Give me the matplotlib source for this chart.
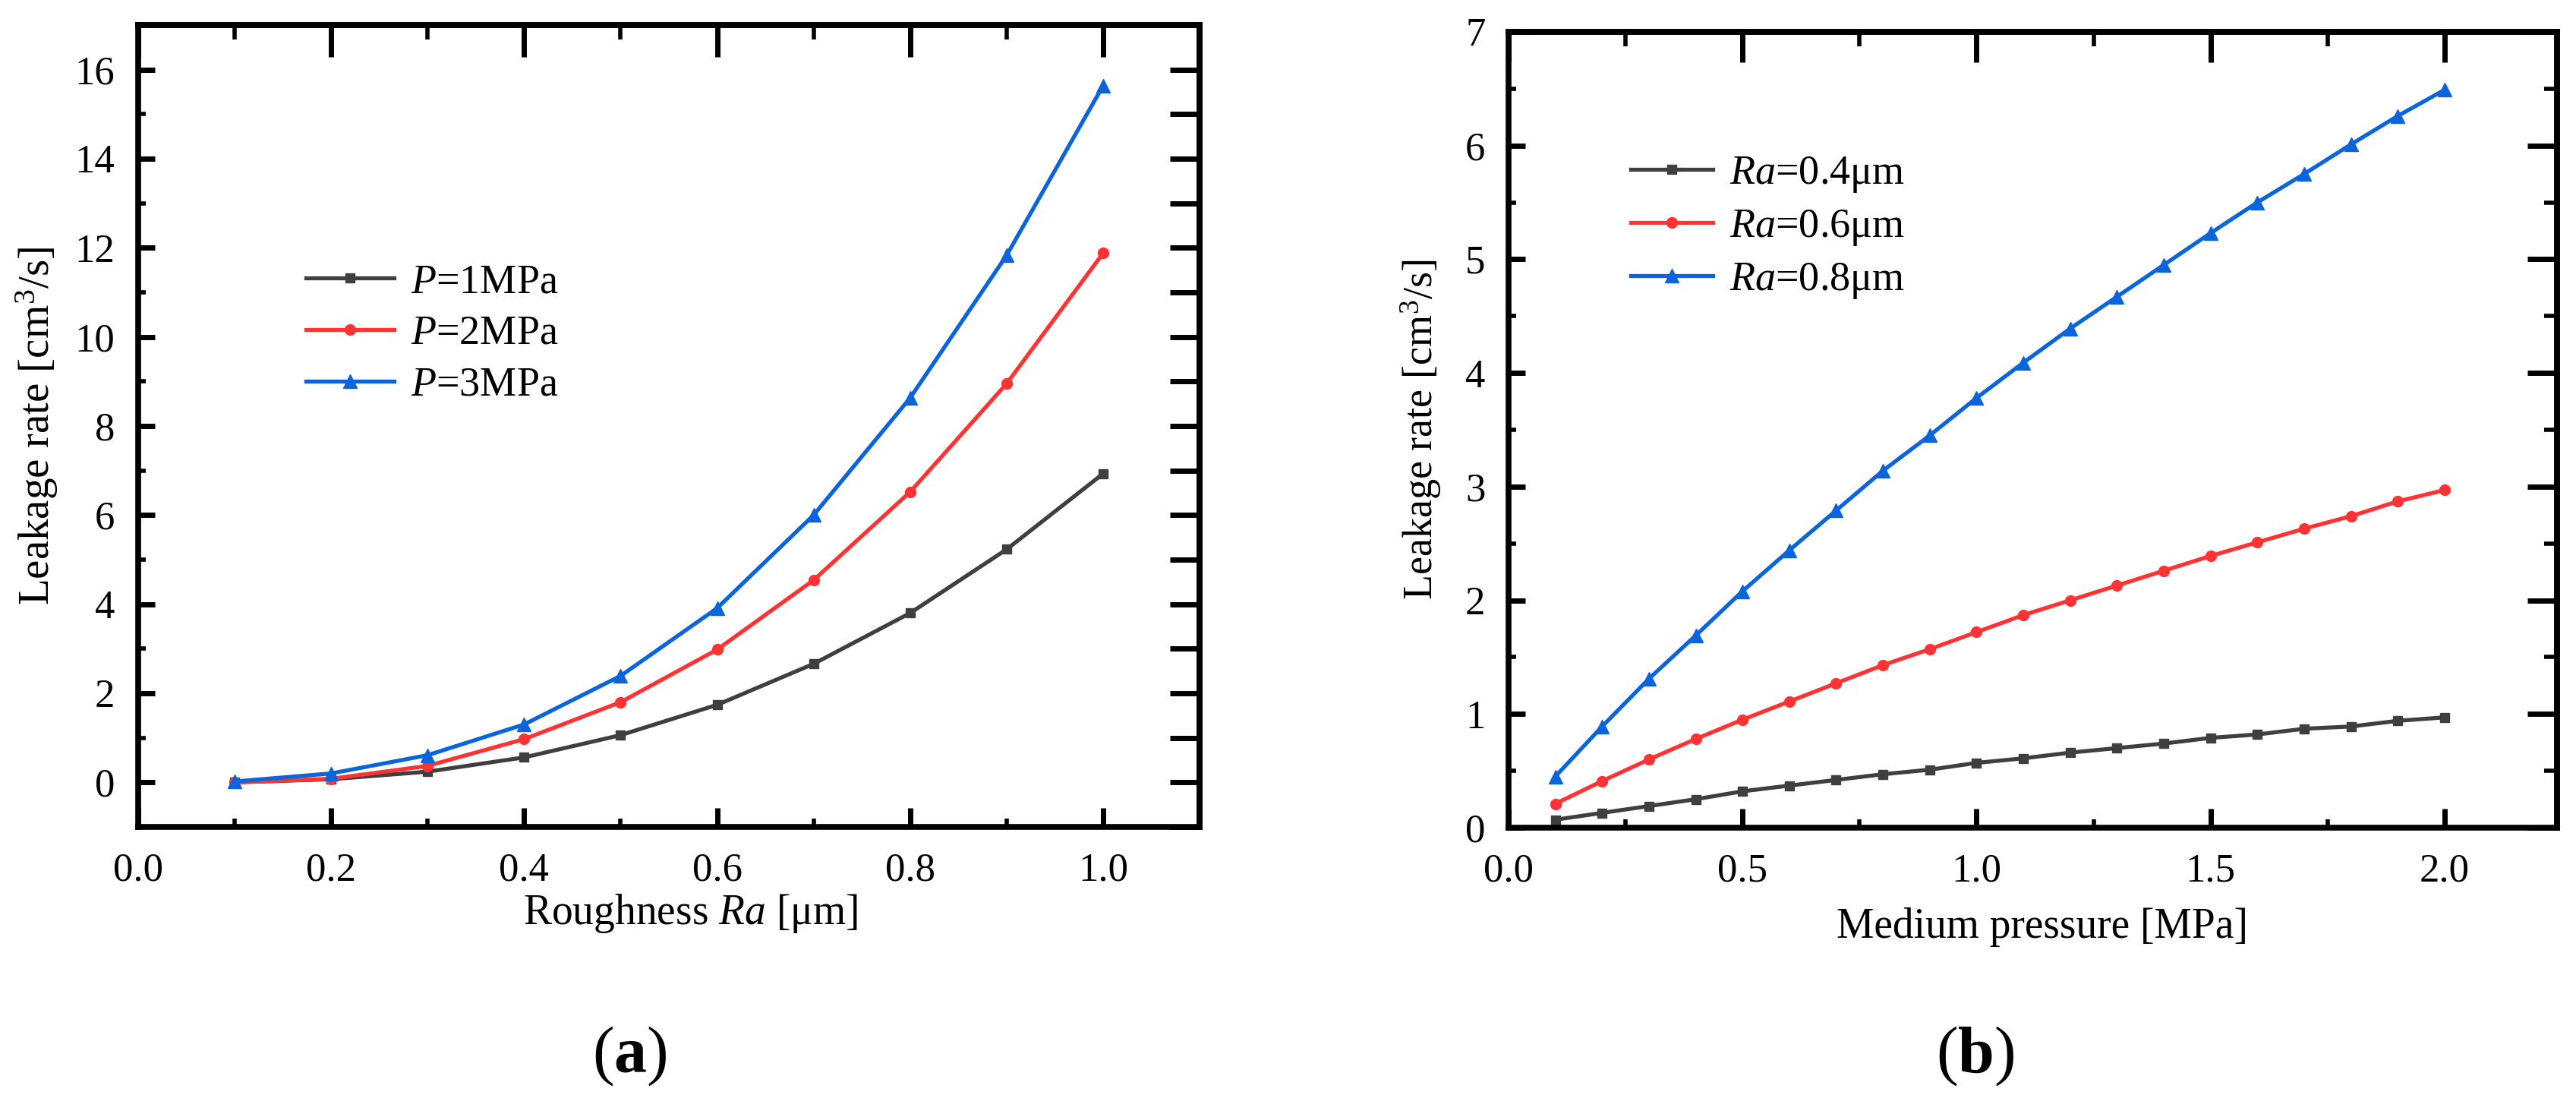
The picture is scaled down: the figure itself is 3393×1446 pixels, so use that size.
import matplotlib
matplotlib.use('Agg')
import matplotlib.pyplot as plt
from matplotlib.ticker import MultipleLocator, NullFormatter, FormatStrFormatter

plt.rcParams['font.family'] = ['Liberation Serif', 'DejaVu Serif']
plt.rcParams['mathtext.fontset'] = 'custom'
plt.rcParams['mathtext.rm'] = 'Liberation Serif'
plt.rcParams['mathtext.it'] = 'Liberation Serif:italic'
plt.rcParams['mathtext.bf'] = 'Liberation Serif:bold'

# (a) leakage rate vs roughness
roughness = [0.1, 0.2, 0.3, 0.4, 0.5, 0.6, 0.7, 0.8, 0.9, 1.0]
leak_p1 = [0.0, 0.07, 0.24, 0.56, 1.06, 1.74, 2.66, 3.80, 5.23, 6.93]
leak_p2 = [0.0, 0.08, 0.37, 0.97, 1.80, 2.98, 4.54, 6.52, 8.95, 11.88]
leak_p3 = [0.02, 0.20, 0.61, 1.30, 2.39, 3.91, 6.00, 8.63, 11.83, 15.64]
labels_a = ['$P$=1MPa', '$P$=2MPa', '$P$=3MPa']

# (b) leakage rate vs medium pressure
pressure = [0.1, 0.2, 0.3, 0.4, 0.5, 0.6, 0.7, 0.8, 0.9, 1.0,
            1.1, 1.2, 1.3, 1.4, 1.5, 1.6, 1.7, 1.8, 1.9, 2.0]
leak_ra04 = [0.07, 0.13, 0.19, 0.25, 0.32, 0.37, 0.42, 0.47, 0.51, 0.57,
             0.61, 0.66, 0.70, 0.74, 0.79, 0.82, 0.87, 0.89, 0.94, 0.97]
leak_ra06 = [0.21, 0.41, 0.60, 0.78, 0.95, 1.11, 1.27, 1.43, 1.57, 1.72,
             1.87, 2.00, 2.13, 2.26, 2.39, 2.51, 2.63, 2.74, 2.87, 2.97]
leak_ra08 = [0.45, 0.89, 1.31, 1.69, 2.08, 2.44, 2.79, 3.14, 3.45, 3.78,
             4.09, 4.39, 4.67, 4.95, 5.23, 5.50, 5.75, 6.01, 6.26, 6.49]
labels_b = ['$Ra$=0.4μm', '$Ra$=0.6μm', '$Ra$=0.8μm']

colors = ['#3f3f3f', '#ff3333', '#0a64dc']
markers = ['s', 'o', '^']
msizes = [9, 10, 13]

FS = 38


def style_axes(ax, xmaj, xmin, ymaj, ymin, top_len, right_maj, right_min):
    for sp in ax.spines.values():
        sp.set_linewidth(5.5)
    ax.xaxis.set_major_locator(MultipleLocator(xmaj))
    ax.xaxis.set_minor_locator(MultipleLocator(xmin))
    ax.yaxis.set_major_locator(MultipleLocator(ymaj))
    ax.yaxis.set_minor_locator(MultipleLocator(ymin))
    ax.xaxis.set_major_formatter(FormatStrFormatter('%.1f'))
    ax.tick_params(which='both', direction='in', top=False, right=False,
                   labelsize=FS)
    ax.tick_params(axis='x', which='major', length=18, width=5, pad=24)
    ax.tick_params(axis='x', which='minor', length=8, width=4)
    ax.tick_params(axis='y', which='major', length=16, width=5, pad=22)
    ax.tick_params(axis='y', which='minor', length=7, width=4)

    # top and right ticks are longer in the original
    sx = ax.secondary_xaxis('top')
    sx.xaxis.set_major_locator(MultipleLocator(xmaj))
    sx.xaxis.set_minor_locator(MultipleLocator(xmin))
    sx.xaxis.set_major_formatter(NullFormatter())
    sx.xaxis.set_minor_formatter(NullFormatter())
    sx.tick_params(which='major', direction='in', length=top_len[0], width=5)
    sx.tick_params(which='minor', direction='in', length=top_len[1], width=4)
    sx.spines['top'].set_linewidth(5.5)

    sy = ax.secondary_yaxis('right')
    sy.yaxis.set_major_locator(MultipleLocator(right_maj))
    sy.yaxis.set_minor_locator(MultipleLocator(right_min))
    sy.yaxis.set_major_formatter(NullFormatter())
    sy.yaxis.set_minor_formatter(NullFormatter())
    sy.tick_params(which='major', direction='in', length=28, width=5)
    sy.tick_params(which='minor', direction='in', length=12, width=4)
    sy.spines['right'].set_linewidth(5.5)


fig = plt.figure(figsize=(33.93, 14.46), dpi=100)

# ---- panel (a)
ax1 = fig.add_axes([0.0536, 0.2469, 0.4121, 0.7303])
for ys, lab, c, m, ms in zip([leak_p1, leak_p2, leak_p3], labels_a,
                             colors, markers, msizes):
    ax1.plot(roughness, ys, color=c, marker=m, markersize=ms, lw=3.8,
             label=lab)
ax1.set_xlim(0, 1.1)
ax1.set_ylim(-1, 17)
style_axes(ax1, 0.2, 0.1, 2, 1, (30, 14), 1, 1)
ax1.set_xlabel('Roughness $Ra$ [μm]', fontsize=40)
ax1.xaxis.set_label_coords(0.52, -0.081)
ax1.set_ylabel('Leakage rate [cm$^3$/s]', fontsize=41)
ax1.yaxis.set_label_coords(-0.0737, 0.5)
ax1.legend(loc='upper left', bbox_to_anchor=(0.158, 0.703), frameon=False,
           fontsize=39, borderpad=0, borderaxespad=0, handlelength=2.15,
           handletextpad=0.4, labelspacing=0.32)

# ---- panel (b)
ax2 = fig.add_axes([0.5856, 0.2462, 0.4070, 0.7248])
for ys, lab, c, m, ms in zip([leak_ra04, leak_ra06, leak_ra08], labels_b,
                             colors, markers, msizes):
    ax2.plot(pressure, ys, color=c, marker=m, markersize=ms, lw=3.8,
             label=lab)
ax2.set_xlim(0, 2.24)
ax2.set_ylim(0, 7)
style_axes(ax2, 0.5, 0.25, 1, 0.5, (29, 14), 1, 0.5)
ax2.set_xlabel('Medium pressure [MPa]', fontsize=40)
ax2.xaxis.set_label_coords(0.509, -0.100)
ax2.set_ylabel('Leakage rate [cm$^3$/s]', fontsize=39)
ax2.yaxis.set_label_coords(-0.0623, 0.5)
ax2.legend(loc='upper left', bbox_to_anchor=(0.1166, 0.846), frameon=False,
           fontsize=39, borderpad=0, borderaxespad=0, handlelength=2.0,
           handletextpad=0.4, labelspacing=0.32)

fig.text(0.2443, 0.0235, '($\\mathbf{a}$)', fontsize=62, ha='center',
         va='baseline')
fig.text(0.7669, 0.0235, '($\\mathbf{b}$)', fontsize=62, ha='center',
         va='baseline')

fig.savefig('out.png', dpi=100)
